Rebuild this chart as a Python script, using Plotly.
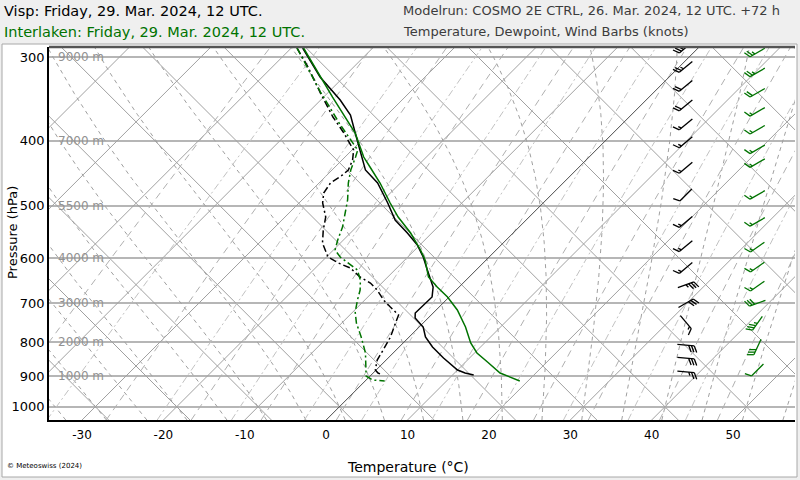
import numpy as np
import plotly.graph_objects as go

# ---- sounding data (hPa, degC) ----
visp_p = [290.5, 321, 347.5, 365.9, 398.9, 442.3, 462.6, 495.6, 525.5, 549.6, 572.8, 597.0,
          624.3, 662.0, 685.2, 704.4, 724.1, 736.7, 759.9, 786.4, 814.1, 845.5, 881.2, 890.4, 896.5]
visp_t = [-48.6, -42.9, -37.6, -34.5, -30.6, -25.9, -22.8, -19.1, -16.1, -13.0, -10.3, -8.1,
          -6.0, -3.2, -2.1, -2.2, -2.2, -1.6, 0.5, 2.0, 4.1, 6.8, 10.0, 11.3, 12.6]

visp_td_p = [290.5, 310.2, 339.2, 368.5, 388.0, 412.9, 427.4, 442.3, 450.0, 462.6, 478.8, 495.6,
             520.1, 544.0, 568.9, 597.0, 609.4, 620.1, 639.6, 652.9, 668.9, 692.3, 709.2, 729.1,
             749.5, 786.4, 822.5, 851.4, 881.2, 890.4, 896.5]
visp_td = [-49.3, -45.6, -40.9, -36.4, -33.3, -29.8, -28.7, -28.0, -28.1, -28.6, -28.2, -27.1,
           -25.0, -23.7, -22.2, -19.8, -17.8, -15.7, -13.4, -11.4, -9.7, -7.7, -6.0, -4.0,
           -3.4, -2.3, -1.6, -1.1, -0.1, 0.6, 1.4]

inter_p = [290.5, 344, 389.4, 423, 437.8, 462.6, 495.6, 520.1, 549.6, 582.7, 603.2, 639.6,
           662.0, 685.2, 716.6, 759.9, 802.9, 831.1, 857.3, 890.4, 915.3]
inter_t = [-48.5, -38.9, -31.7, -27.7, -25.7, -22.5, -18.8, -16.1, -12.6, -9.3, -7.5, -5.0,
           -2.7, -0.2, 2.6, 5.7, 8.3, 10.3, 12.7, 15.6, 19.0]

inter_td_p = [290.5, 338.1, 378.8, 412.9, 423.0, 442.3, 462.6, 490.5, 513.0, 538.4, 563.0, 582.7,
              597.0, 609.4, 624.3, 646.2, 668.9, 692.3, 721.6, 749.5, 786.4, 831.1, 875.2,
              899.6, 912.1, 915.3]
inter_td = [-49.3, -41.0, -34.5, -29.3, -28.7, -27.7, -26.4, -24.4, -23.1, -21.7, -20.7, -19.8,
            -18.3, -16.6, -14.6, -13.0, -11.8, -10.9, -9.7, -8.2, -5.9, -3.4, -1.5,
            -0.5, 0.8, 2.4]

# wind barbs: pressure (hPa), direction (deg), speed (kt)
visp_wind_p = [290, 310, 331, 354, 378, 402, 439, 482, 529, 575, 620, 657, 700, 747, 809, 846, 887]
visp_wind_dir = [230, 230, 230, 230, 230, 230, 230, 225, 230, 230, 230, 70, 60, 140, 95, 95, 95]
visp_wind_kt = [25, 25, 20, 20, 15, 15, 15, 10, 15, 15, 15, 35, 30, 15, 30, 30, 25]

inter_wind_p = [295, 316, 339, 362, 385, 412, 432, 482, 529, 577, 618, 660, 700, 750, 814, 881]
inter_wind_dir = [240, 240, 240, 240, 240, 240, 240, 240, 240, 235, 235, 235, 250, 215, 205, 225]
inter_wind_kt = [25, 25, 20, 15, 15, 15, 15, 15, 15, 15, 15, 15, 30, 35, 30, 10]

# axis labels
p_ticks = [300, 400, 500, 600, 700, 800, 900, 1000]
height_levels = [300, 400, 500, 600, 700, 800, 900]
height_labels = ["9000 m", "7000 m", "5500 m", "4000 m", "3000 m", "2000 m", "1000 m"]
t_ticks = [-30, -20, -10, 0, 10, 20, 30, 40, 50]

# background line families
iso_temps = list(range(-130, 61, 10))
diag_temps = list(range(-40, 161, 10))
moist_t0 = list(range(-45, 61, 5))
mix_ratios = [0.1, 0.2, 0.4, 0.7, 1, 1.5, 2, 3, 4, 5, 7, 9, 12, 15, 20, 25, 30, 40, 50, 60, 75]

# ---- geometry ----
W, H = 800, 480
ML, MR, MT, MB = 49, 5, 47, 60
PW, PH = W - ML - MR, H - MT - MB
P_BOT, P_TOP = 1046.9, 289.5
XMIN = -34.06
PX_X = 8.1375
XMAX = XMIN + PW / PX_X
PX_DEC = PH / (np.log10(P_BOT) - np.log10(P_TOP))
SKEW = PX_DEC / np.log(10) / PX_X

GREEN = "#007300"
FONT = "DejaVu Sans"


def skx(t, p):
    return np.asarray(t, float) + SKEW * np.log(P_BOT / np.asarray(p, float))


def paper_x(px):
    return (px - ML) / PW


def paper_y(py):
    return (H - MB - py) / PH


fig = go.Figure()


def add_lines(xs, ys, color, width, dash="solid"):
    fig.add_trace(go.Scatter(x=xs, y=ys, mode="lines", hoverinfo="skip", showlegend=False,
                             line=dict(color=color, width=width, dash=dash)))


# isotherms
xs, ys = [], []
for t in iso_temps:
    if t == 0:
        continue
    xs += list(skx([t, t], [P_BOT, P_TOP])) + [None]
    ys += [P_BOT, P_TOP, None]
add_lines(xs, ys, "#a0a0a0", 1)

# straight diagonals the other way
xs, ys = [], []
for c in diag_temps:
    pp = np.array([P_BOT, P_TOP])
    xx = c + SKEW * (np.log(P_BOT / 1000) + np.log(pp / 1000))
    xs += list(xx) + [None]
    ys += list(pp) + [None]
add_lines(xs, ys, "#a0a0a0", 1)

# moist adiabats
Rd, Cp, Lv, EPS = 287.04, 1005.7, 2.501e6, 0.622


def es_hpa(tk):
    return 6.112 * np.exp(17.67 * (tk - 273.15) / (tk - 29.65))


def lapse(tk, p):
    e = es_hpa(tk)
    rs = EPS * e / (p - e)
    return (Rd * tk + Lv * rs) / (p * (Cp + Lv * Lv * rs * EPS / (Rd * tk * tk)))


def integrate(t0, p_path):
    tk = np.array(t0, float) + 273.15
    out = [tk.copy()]
    for p0, p1 in zip(p_path[:-1], p_path[1:]):
        dp = p1 - p0
        k1 = lapse(tk, p0)
        k2 = lapse(tk + k1 * dp, p1)
        tk = tk + 0.5 * (k1 + k2) * dp
        out.append(tk.copy())
    return np.array(out) - 273.15


p_up = np.linspace(1000, 280, 145)
p_dn = np.linspace(1000, P_BOT, 10)
t_up = integrate(moist_t0, p_up)
t_dn = integrate(moist_t0, p_dn)
xs, ys = [], []
for i in range(len(moist_t0)):
    pp = np.concatenate([p_dn[::-1], p_up[1:]])
    tt = np.concatenate([t_dn[::-1, i], t_up[1:, i]])
    xs += list(skx(tt, pp)) + [None]
    ys += list(pp) + [None]
add_lines(xs, ys, "#a0a0a0", 1, "4px,4px")

# mixing ratio lines
p_mix = np.linspace(P_BOT, 280, 40)
xs1, ys1, xs2, ys2 = [], [], [], []
for i, w in enumerate(mix_ratios):
    wk = w / 1000.0
    e = wk * p_mix / (EPS + wk)
    le = np.log(e / 6.112)
    td = 243.5 * le / (17.67 - le)
    if i % 2 == 0:
        xs1 += list(skx(td, p_mix)) + [None]
        ys1 += list(p_mix) + [None]
    else:
        xs2 += list(skx(td, p_mix)) + [None]
        ys2 += list(p_mix) + [None]
add_lines(xs1, ys1, "#b0b0b0", 1, "7px,5px")
add_lines(xs2, ys2, "#c2c2c2", 1, "7px,3px,2px,3px")

# 0 degC isotherm
add_lines(list(skx([0, 0], [P_BOT, P_TOP])), [P_BOT, P_TOP], "#4a4a4a", 1)

# soundings
add_lines(list(skx(visp_td, visp_td_p)), visp_td_p, "#000000", 1.5, "7px,3px,2px,3px")
add_lines(list(skx(inter_td, inter_td_p)), inter_td_p, GREEN, 1.5, "7px,3px,2px,3px")
add_lines(list(skx(visp_t, visp_p)), visp_p, "#000000", 1.5)
add_lines(list(skx(inter_t, inter_p)), inter_p, GREEN, 1.5)

# wind barbs
STAFF, FEATHER, GAP, SLANT = 17.0, 7.0, 2.8, np.radians(25)


def barb_paths(col, levels, dirs, speeds):
    bx, by = [], []
    for p, d, s in zip(levels, dirs, speeds):
        b = np.radians(d)
        u = np.array([np.sin(b), -np.cos(b)])
        n = np.array([np.cos(b), np.sin(b)])
        fv = n * np.cos(SLANT) + u * np.sin(SLANT)
        tip, tail = u * STAFF / 2, -u * STAFF / 2
        segs = [(tail, tip)]
        full, half = divmod(int(round(s / 5.0)), 2)
        pos = 0.0
        for _ in range(full):
            a = tip - u * pos
            segs.append((a, a + FEATHER * fv))
            pos += GAP
        if half:
            if full == 0:
                pos += GAP
            a = tip - u * pos
            segs.append((a, a + FEATHER * 0.5 * fv))
        for a0, a1 in segs:
            for pt in (a0, a1):
                bx.append(col + pt[0] / PX_X)
                by.append(p * 10 ** (pt[1] / PX_DEC))
            bx.append(None)
            by.append(None)
    return bx, by


bx, by = barb_paths(44.2, visp_wind_p, visp_wind_dir, visp_wind_kt)
add_lines(bx, by, "#000000", 1.3)
bx, by = barb_paths(53.0, inter_wind_p, inter_wind_dir, inter_wind_kt)
add_lines(bx, by, GREEN, 1.3)

# ---- annotations ----
ann = []
for p, lab in zip(height_levels, height_labels):
    ann.append(dict(x=paper_x(56), xref="paper", y=np.log10(p), yref="y", text=lab,
                    showarrow=False, xanchor="left", yanchor="middle",
                    font=dict(family=FONT, size=12, color="#929292")))

ann += [
    dict(x=paper_x(2), y=paper_y(11), text="Visp: Friday, 29. Mar. 2024, 12 UTC.",
         font=dict(family=FONT, size=14.5, color="#000000")),
    dict(x=paper_x(2), y=paper_y(32), text="Interlaken: Friday, 29. Mar. 2024, 12 UTC.",
         font=dict(family=FONT, size=14.5, color=GREEN)),
    dict(x=paper_x(401), y=paper_y(11), text="Modelrun: COSMO 2E CTRL, 26. Mar. 2024, 12 UTC. +72 h",
         font=dict(family=FONT, size=13, color="#3c3c3c")),
    dict(x=paper_x(401), y=paper_y(32), text="Temperature, Dewpoint, Wind Barbs (knots)",
         font=dict(family=FONT, size=13, color="#3c3c3c")),
    dict(x=paper_x(5), y=paper_y(466), text="© Meteoswiss (2024)",
         font=dict(family=FONT, size=7, color="#000000")),
]
for a in ann[len(height_levels):]:
    a.update(xref="paper", yref="paper", showarrow=False, xanchor="left", yanchor="middle")

ann += [
    dict(x=paper_x(408), y=paper_y(467), xref="paper", yref="paper", text="Temperature (°C)",
         showarrow=False, xanchor="center", yanchor="middle",
         font=dict(family=FONT, size=14, color="#000000")),
    dict(x=paper_x(12), y=paper_y(233), xref="paper", yref="paper", text="Pressure (hPa)",
         showarrow=False, xanchor="center", yanchor="middle", textangle=-90,
         font=dict(family=FONT, size=13, color="#000000")),
]

shapes = [
    dict(type="rect", xref="paper", yref="paper", x0=paper_x(2), x1=paper_x(797),
         y0=paper_y(477), y1=paper_y(44), fillcolor="white",
         line=dict(color="#a8a8a8", width=1), layer="below"),
    dict(type="line", xref="paper", yref="paper", x0=0, x1=1, y0=1, y1=1,
         line=dict(color="#555555", width=2.5)),
]

fig.update_layout(
    width=W, height=H,
    margin=dict(l=ML, r=MR, t=MT, b=MB),
    paper_bgcolor="#efefef",
    plot_bgcolor="white",
    showlegend=False,
    annotations=ann,
    shapes=shapes,
    font=dict(family=FONT, size=13, color="#000000"),
    xaxis=dict(range=[XMIN, XMAX], tickvals=t_ticks, ticktext=[str(v) for v in t_ticks],
               showgrid=False, zeroline=False,
               showline=True, linecolor="#000000", linewidth=1.5, ticks="outside",
               ticklen=3, tickcolor="rgba(0,0,0,0)", tickfont=dict(size=12)),
    yaxis=dict(type="log", range=[np.log10(P_BOT), np.log10(P_TOP)], tickvals=p_ticks,
               ticktext=[str(v) for v in p_ticks], showgrid=True, gridcolor="#b6b6b6",
               gridwidth=1.6, zeroline=False, showline=True, linecolor="#000000",
               linewidth=1.5, ticks="", tickfont=dict(size=13)),
)

fig.write_html("out.html", config={"displayModeBar": False},
               post_script="document.body.style.margin='0px';")
